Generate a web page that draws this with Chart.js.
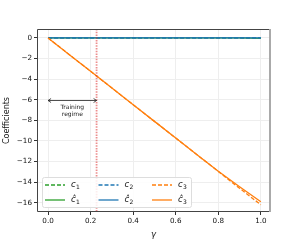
<!DOCTYPE html>
<html>
<head>
<meta charset="utf-8">
<script src="https://cdn.jsdelivr.net/npm/chart.js@4"></script>
<style>
  html, body { margin: 0; padding: 0; background: #fff; }
  #wrap { width: 300px; height: 240px; }
</style>
</head>
<body>
<div id="wrap"><canvas id="chart" width="300" height="240"></canvas></div>
<script>
// gamma values
var gammas = [0.0, 0.1, 0.2, 0.3, 0.4, 0.5, 0.6, 0.7, 0.8, 0.9, 1.0];
// true coefficients (dashed)
var c1 = [0, 0, 0, 0, 0, 0, 0, 0, 0, 0, -0.02];
var c2 = [0, 0, 0, 0, 0, 0, 0, 0, 0, 0, 0];
var c3 = [0, -1.62, -3.24, -4.86, -6.48, -8.1, -9.72, -11.34, -12.96, -14.6, -16.2];
// estimated coefficients (solid)
var c1hat = [0, 0, 0, 0, 0, 0, 0, 0, 0, 0, -0.05];
var c2hat = [0, 0, 0, 0, 0, 0, 0, 0, 0, 0, 0];
var c3hat = [0, -1.62, -3.24, -4.86, -6.48, -8.1, -9.72, -11.34, -12.95, -14.45, -15.9];

var trainEnd = 0.228;
var xTicks = [0, 0.2, 0.4, 0.6, 0.8, 1.0];
var yTicks = [-16, -14, -12, -10, -8, -6, -4, -2, 0];

var green = '#2ca02c', blue = '#1f77b4', orange = '#ff7f0e';
var FONT = '"DejaVu Sans", sans-serif';

function pts(ys) {
	return gammas.map(function(g, i){ return {x: g, y: ys[i]}; });
}
// lower order is drawn on top in chart.js
function line(label, hat, idx, ys, color, dashed, order) {
	return {
		label: label, hat: hat, idx: idx, order: order,
		data: pts(ys),
		borderColor: color,
		backgroundColor: color,
		borderWidth: 1.3,
		borderDash: dashed ? [4, 2] : [],
		pointRadius: 0,
		fill: false
	};
}

var datasets = [
	line('c', false, '1', c1, green, true, 6),
	line('c', true, '1', c1hat, green, false, 7),
	line('c', false, '2', c2, blue, true, 4),
	line('c', true, '2', c2hat, blue, false, 5),
	line('c', false, '3', c3, orange, true, 3),
	line('c', true, '3', c3hat, orange, false, 2),
	{
		label: 'train', noLegend: true, order: 1,
		data: [{x: trainEnd, y: -20}, {x: trainEnd, y: 2}],
		borderColor: 'rgba(220,50,50,0.55)',
		borderWidth: 1.8,
		borderDash: [1.5, 1.2],
		pointRadius: 0
	}
];

// frame, training-regime arrow and legend
var extras = {
	id: 'extras',
	afterDraw: function(chart) {
		var ctx = chart.ctx, a = chart.chartArea;
		var xs = chart.scales.x, ys = chart.scales.y;
		ctx.save();
		// frame
		ctx.strokeStyle = '#444';
		ctx.lineWidth = 1;
		ctx.beginPath();
		ctx.moveTo(a.right, a.top + 0.5);
		ctx.lineTo(a.left + 0.5, a.top + 0.5);
		ctx.lineTo(a.left + 0.5, a.bottom - 0.5);
		ctx.lineTo(a.right, a.bottom - 0.5);
		ctx.stroke();
		ctx.strokeStyle = '#aaa';
		ctx.lineWidth = 2;
		ctx.beginPath();
		ctx.moveTo(a.right, a.top);
		ctx.lineTo(a.right, a.bottom);
		ctx.stroke();

		// arrow
		var x0 = xs.getPixelForValue(0), x1 = xs.getPixelForValue(trainEnd);
		var yA = Math.round(ys.getPixelForValue(-6)) + 0.5;
		ctx.strokeStyle = '#222';
		ctx.fillStyle = '#222';
		ctx.lineWidth = 0.8;
		ctx.beginPath();
		ctx.moveTo(x0, yA); ctx.lineTo(x1, yA);
		ctx.moveTo(x0 + 3, yA - 2); ctx.lineTo(x0, yA); ctx.lineTo(x0 + 3, yA + 2);
		ctx.moveTo(x1 - 3, yA - 2); ctx.lineTo(x1, yA); ctx.lineTo(x1 - 3, yA + 2);
		ctx.stroke();
		ctx.font = '6px ' + FONT;
		ctx.textAlign = 'center';
		ctx.textBaseline = 'middle';
		var xm = (x0 + x1) / 2;
		ctx.fillText('Training', xm, yA + 7);
		ctx.fillText('regime', xm, yA + 14);

		// legend
		var lx = a.left + 5, ly = a.bottom - 35, lw = 149, lh = 30;
		ctx.fillStyle = 'rgba(255,255,255,0.85)';
		ctx.strokeStyle = '#ddd';
		ctx.lineWidth = 1;
		ctx.beginPath();
		ctx.roundRect(lx + 0.5, ly + 0.5, lw, lh, 2);
		ctx.fill();
		ctx.stroke();
		var colW = 53.5;
		chart.data.datasets.forEach(function(ds) {
			if (ds.noLegend) return;
			var col = Number(ds.idx) - 1, row = ds.hat ? 1 : 0;
			var sx = lx + 3 + col * colW, sy = ly + 8 + row * 15;
			ctx.strokeStyle = ds.borderColor;
			ctx.lineWidth = 1.3;
			ctx.setLineDash(ds.borderDash);
			ctx.beginPath();
			ctx.moveTo(sx, sy); ctx.lineTo(sx + 20, sy);
			ctx.stroke();
			ctx.setLineDash([]);
			ctx.fillStyle = '#111';
			ctx.textAlign = 'left';
			ctx.textBaseline = 'middle';
			ctx.font = 'italic 8.5px ' + FONT;
			ctx.fillText(ds.hat ? 'ĉ' : ds.label, sx + 26, sy - 0.5);
			ctx.font = '6px ' + FONT;
			ctx.fillText(ds.idx, sx + 31, sy + 2);
		});
		ctx.restore();
	}
};

new Chart(document.getElementById('chart'), {
	type: 'line',
	data: {datasets: datasets},
	plugins: [extras],
	options: {
		responsive: false,
		animation: false,
		layout: {padding: {top: 29, right: 30, left: 0, bottom: 0}},
		plugins: {legend: {display: false}, tooltip: {enabled: false}},
		scales: {
			x: {
				type: 'linear',
				min: -0.052, max: 1.043,
				afterBuildTicks: function(s){ s.ticks = xTicks.map(function(v){ return {value: v}; }); },
				afterFit: function(s){ s.height = 28; },
				border: {display: false},
				grid: {color: '#eeeeee', tickColor: '#333', tickLength: 3},
				ticks: {
					color: '#111', font: {family: FONT, size: 7.2}, padding: 2,
					maxRotation: 0,
					callback: function(v){ return v.toFixed(1); }
				},
				title: {display: true, text: 'γ', color: '#111', font: {family: FONT, size: 8.5, style: 'italic'}, padding: 0}
			},
			y: {
				min: -16.9, max: 0.87,
				afterBuildTicks: function(s){ s.ticks = yTicks.map(function(v){ return {value: v}; }); },
				afterFit: function(s){ s.width = 37; },
				border: {display: false},
				grid: {color: '#eeeeee', tickColor: '#333', tickLength: 3},
				ticks: {
					color: '#111', font: {family: FONT, size: 7.2}, padding: 2,
					callback: function(v){ return String(v).replace('-', '\u2212'); }
				},
				title: {display: true, text: 'Coefficients', color: '#111', font: {family: FONT, size: 8}, padding: 2}
			}
		}
	}
});
</script>
</body>
</html>
